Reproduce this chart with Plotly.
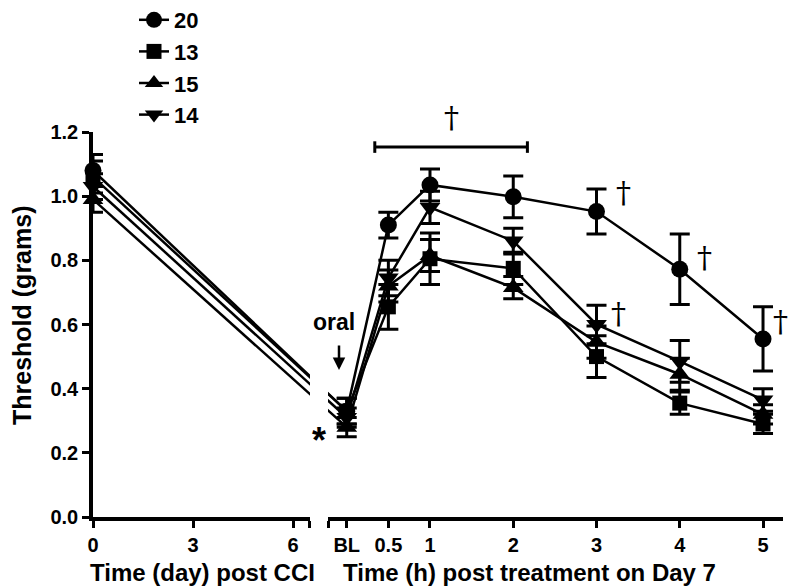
import plotly.graph_objects as go

# ---------------- data ----------------
series_names = ["20", "13", "15", "14"]
series_symbols = ["circle", "square", "triangle-up", "triangle-down"]
series_sizes = [17, 15, 18, 18]

day_ticks = [0, 3, 6]
hour_values = [0, 0.5, 1, 2, 3, 4, 5]
hour_labels = ["BL", "0.5", "1", "2", "3", "4", "5"]

# day 0 threshold (pre-CCI) and its SEM
day0_20, day0_err_20 = 1.08, 0.05
day0_13, day0_err_13 = 1.06, 0.05
day0_15, day0_err_15 = 0.99, 0.04
day0_14, day0_err_14 = 1.03, 0.04

# Day 7 values: BL, 0.5, 1, 2, 3, 4, 5 h
vals_20 = [0.33, 0.91, 1.035, 0.998, 0.952, 0.772, 0.555]
errs_20 = [0.04, 0.04, 0.05, 0.065, 0.07, 0.11, 0.10]
vals_13 = [0.33, 0.655, 0.805, 0.775, 0.50, 0.355, 0.29]
errs_13 = [0.04, 0.07, 0.08, 0.05, 0.065, 0.035, 0.03]
vals_15 = [0.28, 0.72, 0.815, 0.715, 0.545, 0.445, 0.32]
errs_15 = [0.03, 0.05, 0.05, 0.035, 0.05, 0.05, 0.03]
vals_14 = [0.31, 0.745, 0.965, 0.86, 0.60, 0.485, 0.365]
errs_14 = [0.03, 0.055, 0.05, 0.04, 0.06, 0.065, 0.035]

day0_vals = [day0_20, day0_13, day0_15, day0_14]
day0_errs = [day0_err_20, day0_err_13, day0_err_15, day0_err_14]
hour_vals = [vals_20, vals_13, vals_15, vals_14]
hour_errs = [errs_20, errs_13, errs_15, errs_14]

# ---------------- layout geometry ----------------
OFF = 8  # page body margin offset
W, H = 796 - OFF, 587 - OFF
ML = 93 - OFF
MT = 132 - OFF
MR = W - (783 - OFF)
MB = H - (517 - OFF)
PW, PH = W - ML - MR, H - MT - MB


def px_x(px):
    return (px - OFF - ML) / PW


def px_y(py):
    return (H - MB - (py - OFF)) / PH


L_DOM = [0.0, px_x(310)]
L_RNG = [0.0, 6.51]
R_DOM = [px_x(328), 1.0]
R_RNG = [-0.225, 5.24]


def paper_from_left(d):
    return L_DOM[0] + (d - L_RNG[0]) / (L_RNG[1] - L_RNG[0]) * (L_DOM[1] - L_DOM[0])


def left_from_paper(p):
    return L_RNG[0] + (p - L_DOM[0]) / (L_DOM[1] - L_DOM[0]) * (L_RNG[1] - L_RNG[0])


def paper_from_right(h):
    return R_DOM[0] + (h - R_RNG[0]) / (R_RNG[1] - R_RNG[0]) * (R_DOM[1] - R_DOM[0])


def right_from_paper(p):
    return R_RNG[0] + (p - R_DOM[0]) / (R_DOM[1] - R_DOM[0]) * (R_RNG[1] - R_RNG[0])


def paper_from_value(v):
    return v / 1.2


bl_in_left = left_from_paper(paper_from_right(hour_values[0]))
day0_in_right = right_from_paper(paper_from_left(day_ticks[0]))

FONT = "Liberation Sans, Arial, sans-serif"
BLACK = "black"
LW = 2.5

fig = go.Figure()

for i, name in enumerate(series_names):
    grp = "g" + name
    v0 = day0_vals[i]
    vbl = hour_vals[i][0]
    # connecting segment on the day axis (clipped at break)
    fig.add_trace(go.Scatter(
        x=[day_ticks[0], bl_in_left], y=[v0, vbl], mode="lines",
        line=dict(color=BLACK, width=LW), xaxis="x", yaxis="y",
        showlegend=False, legendgroup=grp, hoverinfo="skip"))
    # connecting segment on the hour axis (clipped at break)
    fig.add_trace(go.Scatter(
        x=[day0_in_right, hour_values[0]], y=[v0, vbl], mode="lines",
        line=dict(color=BLACK, width=LW), xaxis="x2", yaxis="y",
        showlegend=False, legendgroup=grp, hoverinfo="skip"))
    # day 0 point
    fig.add_trace(go.Scatter(
        x=[day_ticks[0]], y=[v0], mode="markers",
        marker=dict(symbol=series_symbols[i], size=series_sizes[i], color=BLACK),
        error_y=dict(type="data", array=[day0_errs[i]], color=BLACK, thickness=3, width=10),
        xaxis="x", yaxis="y", cliponaxis=False,
        showlegend=False, legendgroup=grp))
    # day 7 time course
    fig.add_trace(go.Scatter(
        x=hour_values, y=hour_vals[i], mode="lines+markers", name=name,
        line=dict(color=BLACK, width=LW),
        marker=dict(symbol=series_symbols[i], size=series_sizes[i], color=BLACK),
        error_y=dict(type="data", array=hour_errs[i], color=BLACK, thickness=3, width=10),
        xaxis="x2", yaxis="y", cliponaxis=False,
        showlegend=True, legendgroup=grp))

tickfont = dict(family=FONT, size=20, color=BLACK, weight="bold")
axis_common = dict(showgrid=False, zeroline=False, showline=True, linecolor=BLACK,
                   linewidth=3.5, ticks="outside", ticklen=7, tickwidth=3,
                   tickcolor=BLACK, tickfont=tickfont, automargin=False)

fig.update_layout(
    template="none",
    width=W, height=H,
    margin=dict(l=ML, r=MR, t=MT, b=MB, autoexpand=False),
    plot_bgcolor="white", paper_bgcolor="white",
    xaxis=dict(domain=L_DOM, range=L_RNG, anchor="y",
               tickvals=day_ticks + [6.5], ticktext=[str(d) for d in day_ticks] + [""],
               **axis_common),
    xaxis2=dict(domain=R_DOM, range=R_RNG, anchor="y",
                tickvals=[-0.22] + hour_values, ticktext=[""] + hour_labels,
                **axis_common),
    yaxis=dict(domain=[0, 1], range=[0, 1.2], anchor="x",
               tickvals=[0, 0.2, 0.4, 0.6, 0.8, 1.0, 1.2], tickformat=".1f",
               layer="below traces", **axis_common),
    legend=dict(x=px_x(134), y=px_y(-1), xanchor="left", yanchor="top",
                font=dict(family=FONT, size=22, color=BLACK, weight="bold"),
                traceorder="grouped", tracegroupgap=0, bgcolor="rgba(0,0,0,0)"),
    showlegend=True,
)

ann_font = dict(family=FONT, size=24, color=BLACK)
dag_font = dict(family="DejaVu Serif", size=30, color=BLACK)
annotations = [
    dict(text="<b>Time (day) post CCI</b>", x=px_x(202), y=px_y(572), xref="paper", yref="paper",
         showarrow=False, font=ann_font, xanchor="center", yanchor="middle"),
    dict(text="<b>Time (h) post treatment on Day 7</b>", x=px_x(529), y=px_y(572), xref="paper", yref="paper",
         showarrow=False, font=ann_font, xanchor="center", yanchor="middle"),
    dict(text="<b>Threshold (grams)</b>", x=px_x(22), y=px_y(316), xref="paper", yref="paper",
         showarrow=False, font=dict(family=FONT, size=25, color=BLACK), textangle=-90,
         xanchor="center", yanchor="middle"),
    dict(text="<b>oral</b>", x=px_x(334), y=px_y(322), xref="paper", yref="paper",
         showarrow=False, font=dict(family=FONT, size=23, color=BLACK), xanchor="center", yanchor="middle"),
    dict(text="", x=px_x(339), y=px_y(370), xref="paper", yref="paper", showarrow=True,
         ax=0, ay=-26, arrowhead=2, arrowsize=1, arrowwidth=2.5, arrowcolor=BLACK),
    dict(text="<b>*</b>", x=px_x(319), y=px_y(440), xref="paper", yref="paper",
         showarrow=False, font=dict(family=FONT, size=36, color=BLACK), xanchor="center", yanchor="middle"),
]
# daggers (hour position, threshold value)
dagger_pos = [(1.264, 1.244), (3.33, 1.01), (4.30, 0.81), (5.21, 0.61), (3.27, 0.635)]
for hx, vy in dagger_pos:
    annotations.append(dict(text="†", x=paper_from_right(hx), y=paper_from_value(vy),
                            xref="paper", yref="paper", showarrow=False, font=dag_font,
                            xanchor="center", yanchor="middle"))
fig.update_layout(annotations=annotations)

# significance bracket 0.5 h - 2 h
br_x0, br_x1, br_y = 0.337, 2.17, 1.153
shapes = [
    dict(type="line", xref="x2", yref="y", x0=br_x0, x1=br_x1, y0=br_y, y1=br_y,
         line=dict(color=BLACK, width=3)),
    dict(type="line", xref="x2", yref="y", x0=br_x0, x1=br_x0, y0=br_y - 0.018, y1=br_y + 0.018,
         line=dict(color=BLACK, width=3)),
    dict(type="line", xref="x2", yref="y", x0=br_x1, x1=br_x1, y0=br_y - 0.018, y1=br_y + 0.018,
         line=dict(color=BLACK, width=3)),
]
fig.update_layout(shapes=shapes)

fig.write_html("out.html")
